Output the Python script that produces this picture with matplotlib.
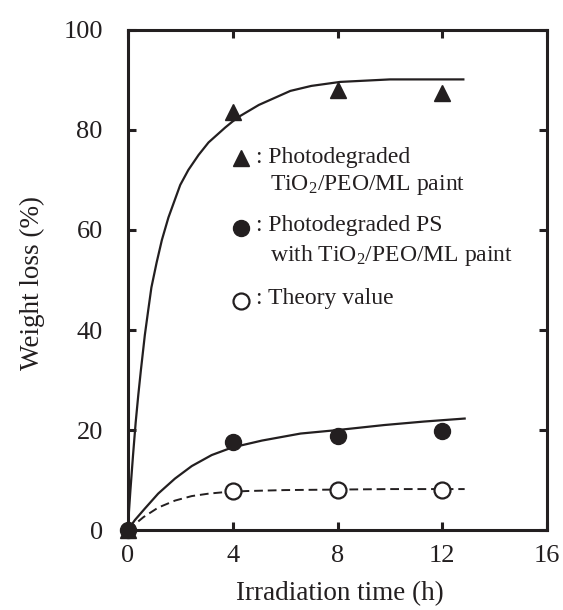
import matplotlib
matplotlib.use("Agg")
import matplotlib.pyplot as plt

plt.rcParams['font.family'] = ['Liberation Serif', 'DejaVu Serif']
plt.rcParams['mathtext.fontset'] = 'custom'
plt.rcParams['mathtext.rm'] = 'Liberation Serif'
plt.rcParams['mathtext.it'] = 'Liberation Serif:italic'

# measured points
time_h = [0, 4, 8, 12]
paint_loss = [0, 83.5, 88.0, 87.3]
ps_loss = [0, 17.7, 18.8, 19.8]
theory_loss = [0, 7.9, 8.1, 8.1]

# fitted curves
fit_t_paint = [0, 0.05, 0.1, 0.2, 0.3, 0.4, 0.5, 0.65, 0.78, 0.9, 1.1, 1.3, 1.55, 2.0,
               2.31, 2.7, 3.08, 3.72, 4.0, 4.29, 5.0, 6.2, 7.0, 8.1, 10.0, 12.8]
fit_y_paint = [0, 4.2, 8, 15, 21.5, 27, 32, 39, 44, 48.5, 53.5, 58, 62.5, 69,
               72, 75, 77.5, 80.5, 81.7, 82.8, 85.0, 87.8, 88.8, 89.6, 90.1, 90.1]
fit_t_ps = [0, 0.27, 0.65, 1.16, 1.8, 2.44, 3.2, 3.97, 5.12, 6.59, 8.0, 9.78, 11.3, 12.85]
fit_y_ps = [0, 2.0, 4.3, 7.3, 10.3, 12.8, 15.0, 16.5, 17.9, 19.3, 20.0, 21.0, 21.7, 22.3]
fit_t_theory = [0, 0.6, 1.16, 1.8, 2.44, 3.1, 3.72, 4.5, 6.0, 8.0, 10.0, 12.85]
fit_y_theory = [0, 2.6, 4.5, 5.9, 6.8, 7.3, 7.6, 7.8, 8.0, 8.1, 8.2, 8.2]

ink = '#231f20'

fig = plt.figure(figsize=(5.63, 6.10), dpi=100)
ax = fig.add_axes([0.227, 0.131, 0.745, 0.820])

ax.plot(fit_t_paint, fit_y_paint, color=ink, lw=1.6)
ax.plot(fit_t_ps, fit_y_ps, color=ink, lw=1.6)
ax.plot(fit_t_theory, fit_y_theory, color=ink, lw=1.4, ls=(0, (4.5, 2.5)))

ax.plot(time_h, paint_loss, ls='none', marker='^', ms=12, color=ink, clip_on=False, zorder=3)
ax.plot(time_h, ps_loss, ls='none', marker='o', ms=11.5, color=ink, clip_on=False, zorder=4)
ax.plot(time_h[1:], theory_loss[1:], ls='none', marker='o', ms=11.5, mfc='white',
        mec=ink, mew=1.6, zorder=4)

ax.set_xlim(0, 16)
ax.set_ylim(0, 100)
ax.set_xticks([0, 4, 8, 12, 16])
ax.set_yticks([0, 20, 40, 60, 80, 100])
ax.tick_params(direction='in', length=6, width=2.2, labelsize=19, colors=ink,
               top=True, right=True)
ax.tick_params(axis='y', pad=18)
ax.tick_params(axis='x', pad=11)
for s in ax.spines.values():
    s.set_linewidth(2.2)
    s.set_color(ink)
ax.set_xlabel('Irradiation time (h)', fontsize=19.5, color=ink)
ax.set_ylabel('Weight loss (%)', fontsize=19.5, color=ink)
ax.xaxis.set_label_coords(0.506, -0.102)
ax.yaxis.set_label_coords(-0.198, 0.494)

# legend drawn by hand
leg_fs = 17
mx = 0.270
tx = 0.305
tx2 = 0.340
ax.plot([mx], [0.744], transform=ax.transAxes, marker='^', ms=12, color=ink, ls='none')
ax.text(tx, 0.744, ': Photodegraded', transform=ax.transAxes, fontsize=leg_fs, color=ink, va='center')
ax.text(tx2, 0.690, 'TiO$_2$/PEO/ML paint', transform=ax.transAxes, fontsize=leg_fs, color=ink, va='center')
ax.plot([mx], [0.603], transform=ax.transAxes, marker='o', ms=11.5, color=ink, ls='none')
ax.text(tx, 0.608, ': Photodegraded PS', transform=ax.transAxes, fontsize=leg_fs, color=ink, va='center')
ax.text(tx2, 0.548, 'with TiO$_2$/PEO/ML paint', transform=ax.transAxes, fontsize=leg_fs, color=ink, va='center')
ax.plot([mx], [0.458], transform=ax.transAxes, marker='o', ms=11.5, mfc='white', mec=ink, mew=1.6, ls='none')
ax.text(tx, 0.462, ': Theory value', transform=ax.transAxes, fontsize=leg_fs, color=ink, va='center')

fig.savefig('out.png', dpi=100)
